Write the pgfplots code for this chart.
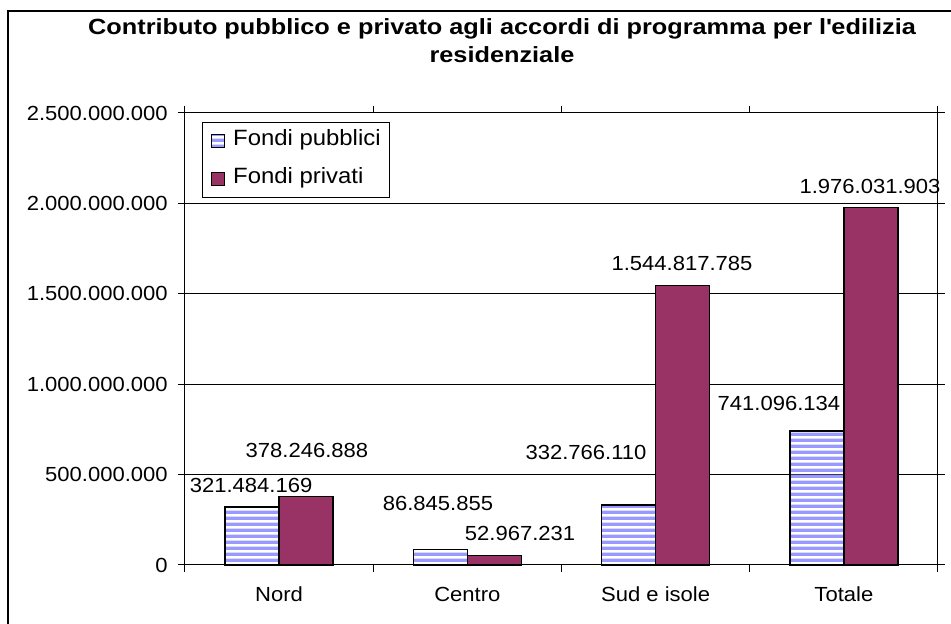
\documentclass[border=0pt]{standalone}
\usepackage{fontspec}
\setmainfont{Liberation Sans}[FakeStretch=1.08]
\newfontfamily\titlefont{Liberation Sans}[FakeStretch=1.15]
\usepackage{pgfplots}
\pgfplotsset{compat=1.18}
\usetikzlibrary{patterns.meta}
\definecolor{priv}{RGB}{153,51,102}
\definecolor{pubb}{RGB}{153,153,255}
\tikzdeclarepattern{
  name=hstripes,
  type=uncolored,
  bounding box={(0,0) and (1pt,4.2pt)},
  tile size={(1pt,4.2pt)},
  code={\fill (0,0) rectangle (1pt,2.7pt);}
}
\begin{document}
\begin{tikzpicture}
\useasboundingbox (0,0) rectangle (713.25pt,468pt);
\fill[white] (0,0) rectangle (713.25pt,468pt);
\draw[line width=1.5pt] (6pt,0) -- (6pt,460pt) -- (713.25pt,460pt);
\node[font=\titlefont\bfseries\fontsize{16.5}{21}\selectfont, align=center, inner sep=0pt] at (376.5pt,437.25pt)
  {Contributo pubblico e privato agli accordi di programma per l\textquotesingle edilizia\\residenziale};
\begin{axis}[
  at={(138.75pt,44.25pt)}, anchor=south west,
  scale only axis, width=564.75pt, height=339pt,
  xmin=-0.5, xmax=3.5, ymin=0, ymax=2500000000,
  ybar=0pt, bar width=40.5pt,
  axis line style={line width=0.75pt, black},
  ymajorgrids, grid style={line width=0.75pt, black},
  ytick={0,500000000,1000000000,1500000000,2000000000,2500000000},
  yticklabels={0,500.000.000,1.000.000.000,1.500.000.000,2.000.000.000,2.500.000.000},
  xtick={0,1,2,3},
  xticklabels={Nord,Centro,Sud e isole,Totale},
  minor xtick={-0.5,0.5,1.5,2.5,3.5},
  major x tick style={draw=none},
  tick align=outside, major tick length=5.25pt, minor tick length=5.25pt,
  tick style={line width=0.75pt, black},
  ticklabel style={font=\fontsize{15.3}{17}\selectfont, inner sep=0pt},
  yticklabel style={anchor=east, xshift=-7.5pt},
  xticklabel style={anchor=north, yshift=-11pt},
  scaled y ticks=false,
  legend style={at={(axis description cs:0.0226,0.980)}, anchor=north west,
    draw=black, line width=0.75pt, fill=white,
    font=\fontsize{16.6}{18}\selectfont,
    nodes={inner sep=0pt, text height=11pt, text depth=3.5pt},
    row sep=14pt, inner xsep=6.5pt, inner ysep=6.5pt,
    /tikz/every odd column/.append style={column sep=6pt}},
  legend cell align=left,
  legend image code/.code={\draw[#1, line width=0.75pt] (0pt,-4.9pt) rectangle (9.75pt,4.9pt);},
  clip=false,
]
\addplot[draw=black, line width=1.1pt, pattern=hstripes, pattern color=pubb]
  coordinates {(0,321484169) (1,86845855) (2,332766110) (3,741096134)};
\addplot[draw=black, line width=1.1pt, fill=priv]
  coordinates {(0,378246888) (1,52967231) (2,1544817785) (3,1976031903)};
\legend{Fondi pubblici, Fondi privati}
\tikzset{lbl/.style={font=\fontsize{15.3}{17}\selectfont, inner sep=0pt}}
\node[lbl] at (axis cs:-0.149,442500000) {321.484.169};
\node[lbl] at (axis cs:0.148,636000000) {378.246.888};
\node[lbl] at (axis cs:0.844,343000000) {86.845.855};
\node[lbl] at (axis cs:1.280,177000000) {52.967.231};
\node[lbl] at (axis cs:1.630,625000000) {332.766.110};
\node[lbl] at (axis cs:2.140,1670000000) {1.544.817.785};
\node[lbl] at (axis cs:2.655,896000000) {741.096.134};
\node[lbl] at (axis cs:3.139,2091000000) {1.976.031.903};
\end{axis}
\end{tikzpicture}
\end{document}
